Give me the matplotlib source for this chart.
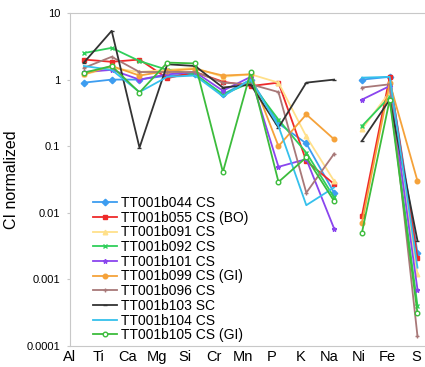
import numpy as np
import matplotlib
matplotlib.use("Agg")
import matplotlib.pyplot as plt

plt.rcParams.update({
    "font.family": ["Liberation Sans", "DejaVu Sans"],
    "axes.edgecolor": "#c8c8c8",
    "axes.linewidth": 0.8,
})

elements = ["Al", "Ti", "Ca", "Mg", "Si", "Cr", "Mn", "P", "K", "Na", "Ni", "Fe", "S"]

s044 = [0.9, 1.0, 1.0, 1.15, 1.2, 0.6, 1.0, 0.22, 0.11, 0.02, 1.0, 1.1, 0.0025]
s055 = [2.0, 1.85, 2.0, 1.05, 1.3, 0.93, 0.8, 0.9, 0.06, 0.027, 0.009, 1.1, 0.0021]
s091 = [1.2, 1.5, 1.3, 1.4, 1.5, 1.1, 1.2, 0.9, 0.14, 0.03, 0.18, 0.65, 0.0012]
s092 = [2.5, 3.0, 1.9, 1.4, 1.2, 0.6, 0.9, 0.25, 0.08, 0.017, 0.2, 0.55, 0.0004]
s101 = [1.3, 1.4, 1.0, 1.2, 1.3, 0.68, 1.1, 0.049, 0.064, 0.0058, 0.5, 0.8, 0.0007]
s099 = [1.2, 1.6, 1.15, 1.35, 1.45, 1.15, 1.2, 0.1, 0.3, 0.127, 0.007, 0.9, 0.03]
s096 = [1.5, 2.2, 1.3, 1.3, 1.3, 0.9, 0.85, 0.65, 0.02, 0.077, 0.76, 0.85, 0.00014]
s103 = [1.8, 5.4, 0.095, 1.7, 1.6, 0.76, 0.84, 0.19, 0.9, 1.0, 0.12, 0.5, 0.0038]
s104 = [1.6, 1.4, 0.65, 1.1, 1.15, 0.56, 1.0, 0.2, 0.013, 0.024, 1.07, 1.1, 0.0015]
s105 = [1.27, 1.6, 0.64, 1.8, 1.75, 0.041, 1.3, 0.029, 0.068, 0.015, 0.005, 0.5, 0.00031]

labels = ["TT001b044 CS", "TT001b055 CS (BO)", "TT001b091 CS", "TT001b092 CS",
          "TT001b101 CS", "TT001b099 CS (GI)", "TT001b096 CS", "TT001b103 SC",
          "TT001b104 CS", "TT001b105 CS (GI)"]
series = [s044, s055, s091, s092, s101, s099, s096, s103, s104, s105]

# colour, marker, marker face
styles = [
    ("#3d9df0", "D", None),
    ("#ee2a2a", "s", None),
    ("#ffe08a", "^", None),
    ("#2fcf5a", "x", None),
    ("#8a45ee", "*", None),
    ("#f5a23a", "o", None),
    ("#a87878", "+", None),
    ("#333333", "_", None),
    ("#35c0ec", "", None),
    ("#3cbc3c", "o", "white"),
]

fig = plt.figure(figsize=(4.25, 3.67), dpi=100)
ax = fig.add_axes([70 / 425, 1 - 346 / 367, 1 - 70 / 425, (346 - 13) / 367])

x = np.arange(len(elements))
brk = elements.index("Ni")  # lines are broken between Na and Ni
for vals, lab, (c, m, fc) in zip(series, labels, styles):
    v = np.array(vals)
    kw = dict(color=c, lw=1.3, marker=m, ms=3.3, mew=1.0,
              mfc=fc if fc else c)
    ax.plot(x[:brk], v[:brk], label=lab, **kw)
    ax.plot(x[brk:], v[brk:], **kw)

ax.set_yscale("log")
ax.set_ylim(1e-4, 10)
ax.set_xlim(-0.5, 12.27)
ax.set_yticks([1e-4, 1e-3, 1e-2, 1e-1, 1, 10])
ax.set_yticklabels(["0.0001", "0.001", "0.01", "0.1", "1", "10"], fontsize=8)
ax.yaxis.set_minor_locator(matplotlib.ticker.NullLocator())
ax.tick_params(axis="y", length=2, color="#c8c8c8", pad=5)

ax.set_xticks(np.linspace(-0.5, 11.95, len(elements)))
ax.set_xticklabels(elements, fontsize=10.5)
ax.tick_params(axis="x", length=0, pad=3)
ax.spines["right"].set_visible(False)

ax.set_ylabel("CI normalized", fontsize=11.5)
ax.yaxis.set_label_coords(-0.145, 0.5)

ax.legend(loc="upper left", bbox_to_anchor=(93 / 425, 1 - 196 / 367),
          bbox_transform=fig.transFigure, frameon=False, fontsize=10,
          labelspacing=0.05, handlelength=1.7, handletextpad=0.3,
          borderpad=0, borderaxespad=0)

fig.savefig("out.png", dpi=100)
